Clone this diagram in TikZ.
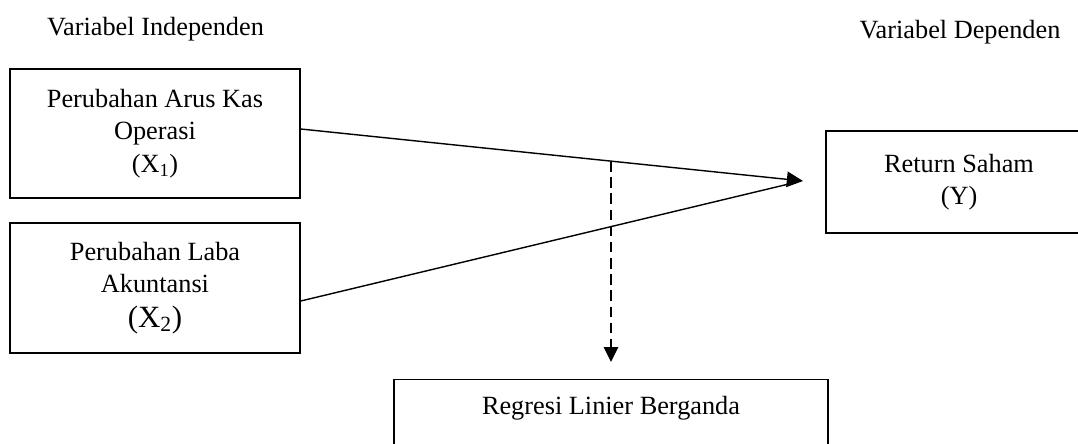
\documentclass[tikz,border=0pt]{standalone}
\usepackage{fontspec}
\setmainfont{Liberation Serif}
\usetikzlibrary{arrows.meta,calc}
\begin{document}
\begin{tikzpicture}[x=0.025cm,y=-0.025cm,
  txt/.style={font=\fontsize{18.7}{22.8}\selectfont, align=center},
  varbox/.style={txt, draw, line width=1pt, inner sep=0pt},
  conn/.style={line width=1pt, -{Triangle[length=11.5pt,width=11pt]}},
  dconn/.style={line width=1.4pt, dash pattern=on 7.5pt off 4pt, -{Triangle[length=10.5pt,width=10pt]}}]
\clip (0,0) rectangle (1078,443);
\fill[white] (0,0) rectangle (1078,443);
\node[txt, anchor=base] (li) at (155.5,35) {Variabel Independen};
\node[txt, anchor=base] (ld) at (960,38) {Variabel Dependen};
\node[varbox, minimum width=7.25cm, minimum height=3.225cm] (x1) at (155,133.5)
  {Perubahan Arus Kas\\Operasi\\[1pt](X\textsubscript{1})};
\node[varbox, minimum width=7.25cm, minimum height=3.25cm] (x2) at (155,288)
  {Perubahan Laba\\Akuntansi\\[2pt]{\fontsize{22}{26}\selectfont (X\textsubscript{2})}};
\node[varbox, minimum width=6.65cm, minimum height=2.55cm] (y) at (959,182)
  {Return Saham\\(Y)};
\node[varbox, anchor=north, minimum width=10.85cm, text height=25pt, text depth=50pt] (reg) at (611,379)
  {Regresi Linier Berganda};
\coordinate (tip) at (803,181);
\coordinate (base2) at (795,182.5);
\coordinate (d0) at (611,161);
\coordinate (d1) at (611,362);
\draw[line width=1pt] ([yshift=-0.325cm]x2.east) -- (base2);
\draw[conn] ([yshift=0.1125cm]x1.east) -- (tip);
\draw[dconn] (d0) -- (d1);
\end{tikzpicture}
\end{document}
